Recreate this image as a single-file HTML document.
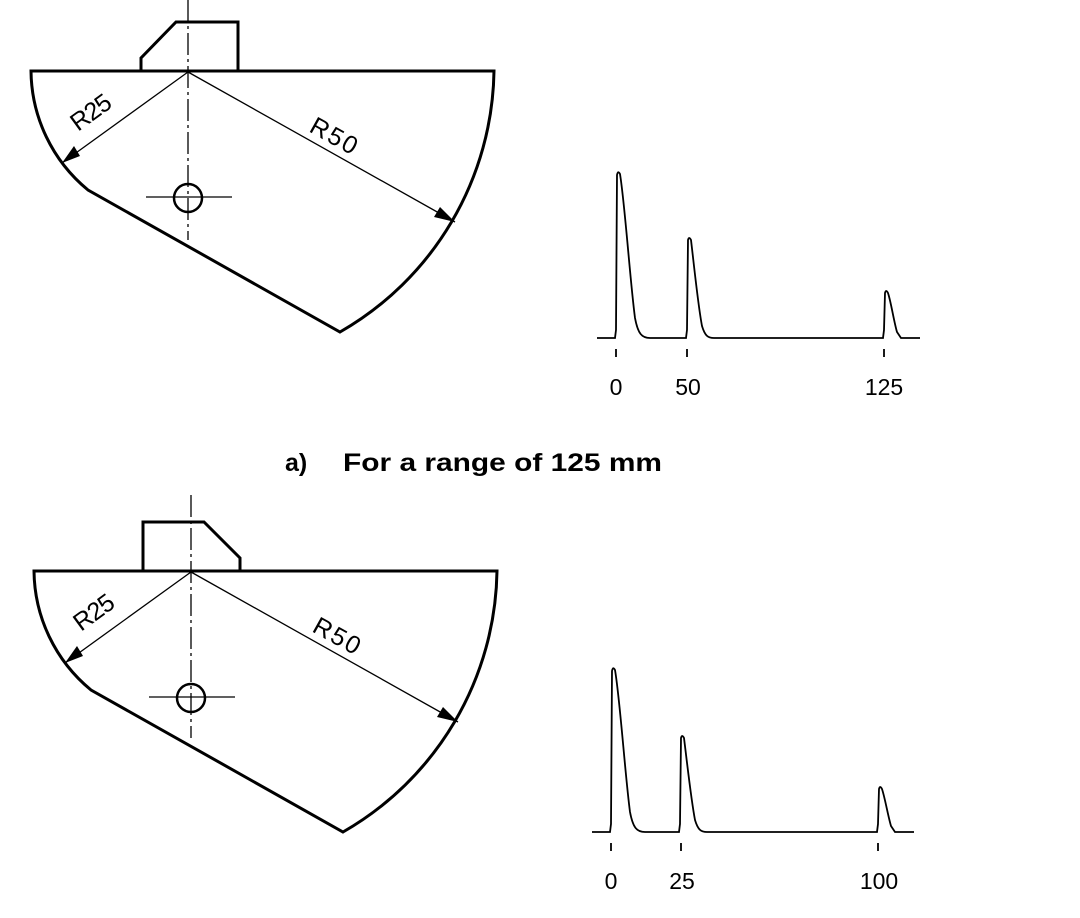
<!DOCTYPE html>
<html><head><meta charset="utf-8"><style>
body{margin:0;background:#fff}
svg{display:block}
.t{font-family:"Liberation Sans",sans-serif}
</style></head><body>
<svg width="1080" height="918" viewBox="0 0 1080 918" xmlns="http://www.w3.org/2000/svg">
<defs>
<g id="block">
  <path d="M31,71 L494,71 A306,306 0 0 1 340,332 L88,190 A156,156 0 0 1 31,71 Z" fill="none" stroke="#000" stroke-width="3" stroke-linejoin="miter"/>
  <circle cx="188" cy="198" r="14" fill="none" stroke="#000" stroke-width="2.5"/>
  <line x1="146" y1="197" x2="232" y2="197" stroke="#000" stroke-width="1.3"/>
  <line x1="188" y1="72" x2="62" y2="163" stroke="#000" stroke-width="1.3"/>
  <line x1="188" y1="72" x2="455" y2="222" stroke="#000" stroke-width="1.3"/>
  <polygon points="62,163 74,146 80,156" fill="#000"/>
  <polygon points="455,222 434,217 440,207" fill="#000"/>
  <text class="t" transform="translate(78,132) rotate(-36)" font-size="25" textLength="44">R25</text>
  <text class="t" transform="translate(308,131) rotate(29)" font-size="25" textLength="50">R50</text>
</g>
</defs>

<!-- a) -->
<use href="#block"/>
<path d="M141,71 L141,58 L176,22 L238,22 L238,71" fill="none" stroke="#000" stroke-width="3"/>
<line x1="188" y1="0" x2="188" y2="240" stroke="#000" stroke-width="1.3" stroke-dasharray="22,4,3,4"/>

<g fill="none" stroke="#000" stroke-width="1.8">
<path d="M597,338 L615,338 L616,330 L617,175 Q618,170 620,174 C625,205 630,280 635,318 C638,334 642,338 650,338 L686,338 L687,330 L688,240 Q689,236 691,240 C694,265 698,305 702,326 C705,336 708,338 714,338 L883,338 L884,330 L885,293 Q886,289 888,293 C891,302 894,322 897,332 L901,338 L920,338"/>
<line x1="616" y1="349" x2="616" y2="357"/>
<line x1="687" y1="349" x2="687" y2="357"/>
<line x1="884" y1="349" x2="884" y2="357"/>
</g>
<text class="t" x="616" y="395" font-size="23" text-anchor="middle">0</text>
<text class="t" x="688" y="395" font-size="23" text-anchor="middle">50</text>
<text class="t" x="884" y="395" font-size="23" text-anchor="middle">125</text>

<text class="t" x="285" y="471" font-size="25" font-weight="bold">a)</text>
<text class="t" x="343" y="471" font-size="25" font-weight="bold" textLength="319" lengthAdjust="spacingAndGlyphs">For a range of 125 mm</text>

<!-- b) -->
<use href="#block" transform="translate(3,500)"/>
<path d="M143,571 L143,522 L204,522 L240,558 L240,571" fill="none" stroke="#000" stroke-width="3"/>
<line x1="191" y1="495" x2="191" y2="738" stroke="#000" stroke-width="1.3" stroke-dasharray="22,4,3,4"/>

<g fill="none" stroke="#000" stroke-width="1.8" transform="translate(-5,494)">
<path d="M597,338 L615,338 L616,330 L617,177 Q618,172 620,176 C625,205 630,280 635,318 C638,334 642,338 650,338 L684,338 L685,330 L686,244 Q687,240 689,244 C692,268 696,305 700,326 C703,336 706,338 712,338 L882,338 L883,330 L884,295 Q885,291 887,295 C890,304 893,322 896,332 L900,338 L919,338"/>
<line x1="616" y1="349" x2="616" y2="357"/>
<line x1="686" y1="349" x2="686" y2="357"/>
<line x1="883" y1="349" x2="883" y2="357"/>
</g>
<text class="t" x="611" y="889" font-size="23" text-anchor="middle">0</text>
<text class="t" x="682" y="889" font-size="23" text-anchor="middle">25</text>
<text class="t" x="879" y="889" font-size="23" text-anchor="middle">100</text>
</svg>
</body></html>
